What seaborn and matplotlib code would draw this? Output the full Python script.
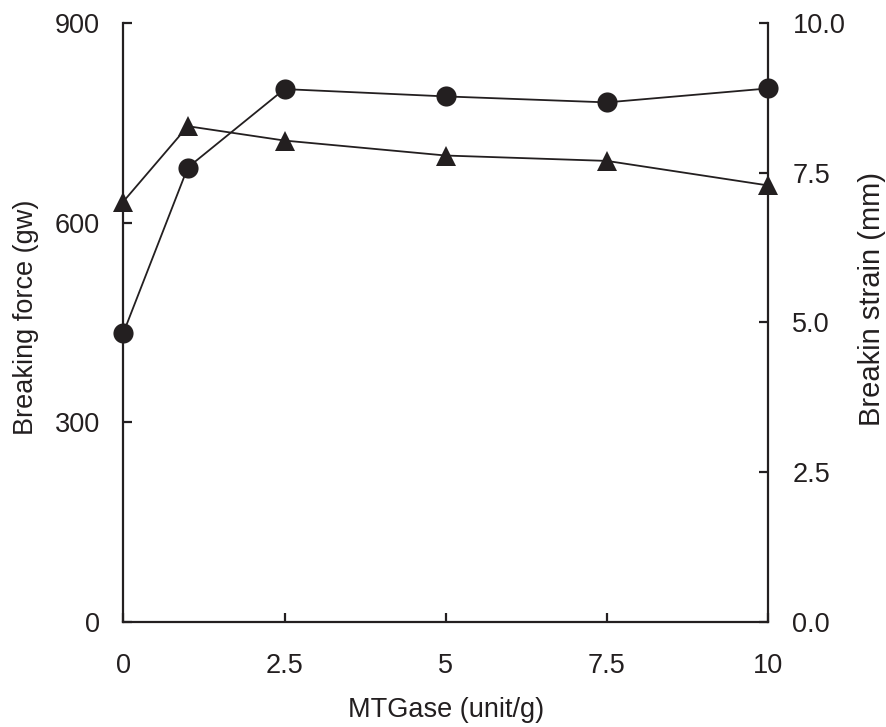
import matplotlib
matplotlib.use("Agg")
import matplotlib.pyplot as plt
import seaborn as sns
import pandas as pd

# MTGase dose and the two texture responses
mtgase = [0, 1, 2.5, 5, 7.5, 10]
breaking_force = [434, 683, 801, 790, 781, 802]      # gw, circles, left axis
breaking_strain = [7.02, 8.28, 8.04, 7.79, 7.70, 7.29]  # mm, triangles, right axis

x_ticks = [0, 2.5, 5, 7.5, 10]
x_tick_labels = ["0", "2.5", "5", "7.5", "10"]
force_ticks = [0, 300, 600, 900]
force_tick_labels = ["0", "300", "600", "900"]
strain_ticks = [0, 2.5, 5, 7.5, 10]
strain_tick_labels = ["0.0", "2.5", "5.0", "7.5", "10.0"]

df = pd.DataFrame({"mtgase": mtgase, "force": breaking_force, "strain": breaking_strain})

sns.set_style("ticks")
plt.rcParams["font.family"] = ["Liberation Sans", "DejaVu Sans"]

ink = "#231f20"
fs = 19.5

fig = plt.figure(figsize=(8.87, 7.27), dpi=100)
ax = fig.add_axes([0.139, 0.1448, 0.727, 0.8232])
ax2 = ax.twinx()

sns.lineplot(data=df, x="mtgase", y="force", ax=ax, color=ink, lw=1.3,
             marker="o", markersize=14.5, markeredgewidth=0, markerfacecolor=ink)
sns.lineplot(data=df, x="mtgase", y="strain", ax=ax2, color=ink, lw=1.3,
             marker="^", markersize=14.8, markeredgewidth=0, markerfacecolor=ink)
for a in (ax, ax2):
    for ln in a.lines:
        ln.set_clip_on(False)

ax.set_xlim(0, 10)
ax.set_ylim(0, 900)
ax2.set_ylim(0, 10)

ax.set_xticks(x_ticks)
ax.set_xticklabels(x_tick_labels)
ax.set_yticks(force_ticks)
ax.set_yticklabels(force_tick_labels)
ax2.set_yticks(strain_ticks)
ax2.set_yticklabels(strain_tick_labels)

for a in (ax, ax2):
    a.spines["top"].set_visible(False)
    for s in ("left", "right", "bottom"):
        a.spines[s].set_linewidth(1.6)
        a.spines[s].set_color(ink)
ax.spines["right"].set_visible(False)
ax2.spines["left"].set_visible(False)
ax2.spines["bottom"].set_visible(False)

ax.tick_params(axis="y", direction="in", length=6.5, width=1.6, color=ink,
               labelsize=fs, labelcolor=ink, pad=16.6)
ax.tick_params(axis="x", direction="in", length=6.5, width=1.6, color=ink,
               labelsize=fs, labelcolor=ink, pad=22.5)
ax2.tick_params(axis="y", direction="in", length=6.5, width=1.6, color=ink,
                labelsize=fs, labelcolor=ink, pad=17.5)

ax.set_xlabel("MTGase (unit/g)", fontsize=fs, color=ink)
ax.set_ylabel("Breaking force (gw)", fontsize=fs, color=ink)
ax2.set_ylabel("Breakin strain (mm)", fontsize=21, color=ink)
ax.xaxis.set_label_coords(0.5, -0.1264)
ax.yaxis.set_label_coords(-0.1307, 0.508)
ax2.yaxis.set_label_coords(1.139, 0.539)

fig.savefig("out.png", dpi=100)
